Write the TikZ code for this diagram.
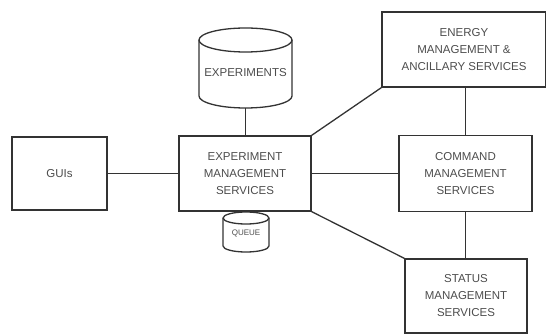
\documentclass[tikz,border=0pt]{standalone}
\usepackage{fontspec}
\setmainfont{Liberation Sans}
\begin{document}
\begin{tikzpicture}[x=1pt,y=-1pt,
  line/.style={draw=black!80,line width=1.3pt},
  boxnode/.style={line,rectangle,inner sep=0pt,align=center,text=black!70,
    font=\fontsize{11.5}{17}\selectfont},
  cylbody/.style={line,fill=white},
  lbl/.style={inner sep=0pt,align=center,text=black!70,font=\fontsize{11.5}{17}\selectfont}]
\useasboundingbox (0,0) rectangle (546,334);
% boxes
\node[boxnode,minimum width=95pt,minimum height=73pt] (gui) at (59.5,173.5) {GUIs};
\node[boxnode,minimum width=132pt,minimum height=75pt] (ems) at (245,173.5) {EXPERIMENT\\MANAGEMENT\\SERVICES};
\node[boxnode,minimum width=164pt,minimum height=75pt] (ener) at (464,49.5) {ENERGY\\MANAGEMENT \&\\ANCILLARY SERVICES};
\node[boxnode,minimum width=133pt,minimum height=76pt] (cmd) at (465.5,173.5) {COMMAND\\MANAGEMENT\\SERVICES};
\node[boxnode,minimum width=122pt,minimum height=74pt] (stat) at (466,296) {STATUS\\MANAGEMENT\\SERVICES};
% experiments cylinder
\path[cylbody] (199,40) -- (199,96) arc[start angle=180,end angle=0,x radius=46.5,y radius=12] -- (292,40) arc[start angle=0,end angle=-180,x radius=46.5,y radius=12] -- cycle;
\draw[line] (199,40) arc[start angle=180,end angle=0,x radius=46.5,y radius=12];
\node[inner sep=0pt,minimum width=93pt,minimum height=80pt] (exp) at (245.5,68) {};
\node[lbl] (explbl) at (245.5,73) {EXPERIMENTS};
% queue cylinder
\path[cylbody] (223,218) -- (223,246) arc[start angle=180,end angle=0,x radius=23,y radius=6] -- (269,218) arc[start angle=0,end angle=-180,x radius=23,y radius=6] -- cycle;
\draw[line] (223,218) arc[start angle=180,end angle=0,x radius=23,y radius=6];
\node[inner sep=0pt,minimum width=46pt,minimum height=40pt] (que) at (246,232) {};
\node[lbl,font=\fontsize{8}{10}\selectfont] (quelbl) at (246,233) {QUEUE};
% connectors
\draw[line] (gui.east) -- (ems.west);
\draw[line] (exp.south) -- (exp.south |- ems.north);
\draw[line] (ems.north east) -- (ener.south west);
\draw[line] (ems.east) -- (cmd.west);
\draw[line] (ems.south east) -- (stat.north west);
\draw[line] (cmd.north) -- (cmd.north |- ener.south);
\draw[line] (cmd.south) -- (cmd.south |- stat.north);
\end{tikzpicture}
\end{document}
